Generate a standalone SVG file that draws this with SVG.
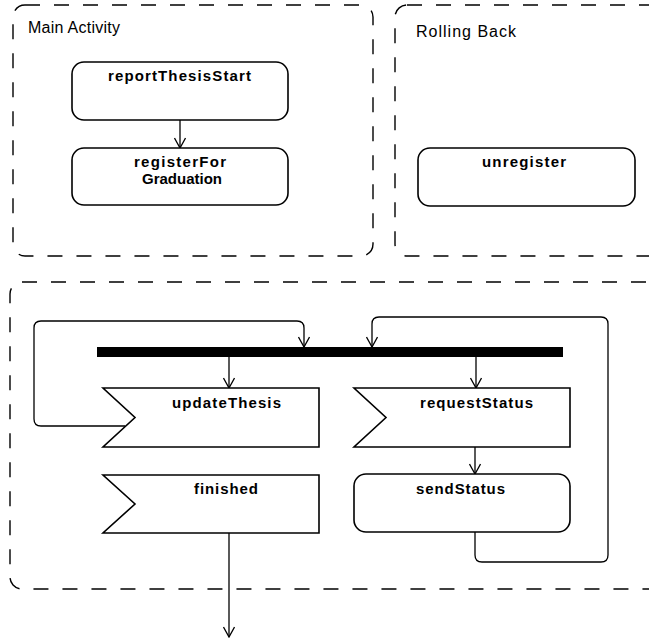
<svg xmlns="http://www.w3.org/2000/svg" width="649" height="642" viewBox="0 0 649 642">
  <style>
    .region { fill: none; stroke: #000; stroke-width: 1.4; stroke-dasharray: 15 14; }
    .title { font-family: "Liberation Sans", Arial, sans-serif; font-size: 16px; fill: #000; }
    .node { fill: #fff; stroke: #000; stroke-width: 1.6; }
    .label { font-family: "Liberation Sans", Arial, sans-serif; font-size: 15px; font-weight: bold; fill: #000; }
    .edge { fill: none; stroke: #000; stroke-width: 1.3; }
    .bar { fill: #000; }
  </style>
  <defs>
    <marker id="arrow" viewBox="0 0 12 12" refX="11" refY="6" markerWidth="12" markerHeight="12" markerUnits="userSpaceOnUse" orient="auto">
      <path d="M1,0.5 L11,6 L1,11.5" fill="none" stroke="#000" stroke-width="1.3"/>
    </marker>
  </defs>

  <rect width="649" height="642" fill="#fff"/>

  <!-- partitions -->
  <g id="partitions">
    <rect class="region" x="13" y="5" width="360" height="251" rx="12" ry="12"/>
    <text class="title" x="28" y="33" textLength="92" lengthAdjust="spacing">Main Activity</text>
    <rect class="region" x="395" y="5" width="275" height="251" rx="12" ry="12"/>
    <text class="title" x="416" y="37" textLength="100" lengthAdjust="spacing">Rolling Back</text>
    <rect class="region" x="10" y="282" width="660" height="307" rx="12" ry="12"/>
  </g>

  <!-- connectors -->
  <g id="connectors">
    <line class="edge" x1="180" y1="120" x2="180" y2="148" marker-end="url(#arrow)"/>
    <line class="edge" x1="229" y1="357" x2="229" y2="388" marker-end="url(#arrow)"/>
    <line class="edge" x1="476" y1="357" x2="476" y2="388" marker-end="url(#arrow)"/>
    <line class="edge" x1="475" y1="447" x2="475" y2="474" marker-end="url(#arrow)"/>
    <path class="edge" d="M125,426 H41 Q34,426 34,419 V328 Q34,321 41,321 H297 Q304,321 304,328 V347" marker-end="url(#arrow)"/>
    <path class="edge" d="M475,532 V555 Q475,562 482,562 H601 Q608,562 608,555 V324 Q608,317 601,317 H379 Q372,317 372,324 V347" marker-end="url(#arrow)"/>
    <line class="edge" x1="229" y1="533" x2="229" y2="637" marker-end="url(#arrow)"/>
  </g>

  <!-- fork bar -->
  <g id="fork">
    <rect class="bar" x="97" y="347" width="466" height="10"/>
  </g>

  <g id="reportThesisStart">
    <rect class="node" x="72" y="62" width="216" height="58" rx="12" ry="12"/>
    <text class="label" x="108" y="81" textLength="143" lengthAdjust="spacing">reportThesisStart</text>
  </g>

  <g id="registerForGraduation">
    <rect class="node" x="72" y="148" width="216" height="57" rx="12" ry="12"/>
    <text class="label" x="134" y="167" textLength="92" lengthAdjust="spacing">registerFor</text>
    <text class="label" x="142" y="184" textLength="80" lengthAdjust="spacing">Graduation</text>
  </g>

  <g id="unregister">
    <rect class="node" x="418" y="148" width="217" height="58" rx="12" ry="12"/>
    <text class="label" x="482" y="167" textLength="84" lengthAdjust="spacing">unregister</text>
  </g>

  <g id="updateThesis">
    <polygon class="node" points="103,388 319,388 319,447 103,447 135,417.5"/>
    <text class="label" x="172" y="408" textLength="109" lengthAdjust="spacing">updateThesis</text>
  </g>

  <g id="requestStatus">
    <polygon class="node" points="354,388 570,388 570,447 354,447 386,417.5"/>
    <text class="label" x="420" y="408" textLength="113" lengthAdjust="spacing">requestStatus</text>
  </g>

  <g id="sendStatus">
    <rect class="node" x="354" y="474" width="216" height="58" rx="12" ry="12"/>
    <text class="label" x="416" y="494" textLength="89" lengthAdjust="spacing">sendStatus</text>
  </g>

  <g id="finished">
    <polygon class="node" points="103,475 319,475 319,533 103,533 135,504"/>
    <text class="label" x="194" y="494" textLength="64" lengthAdjust="spacing">finished</text>
  </g>
</svg>
